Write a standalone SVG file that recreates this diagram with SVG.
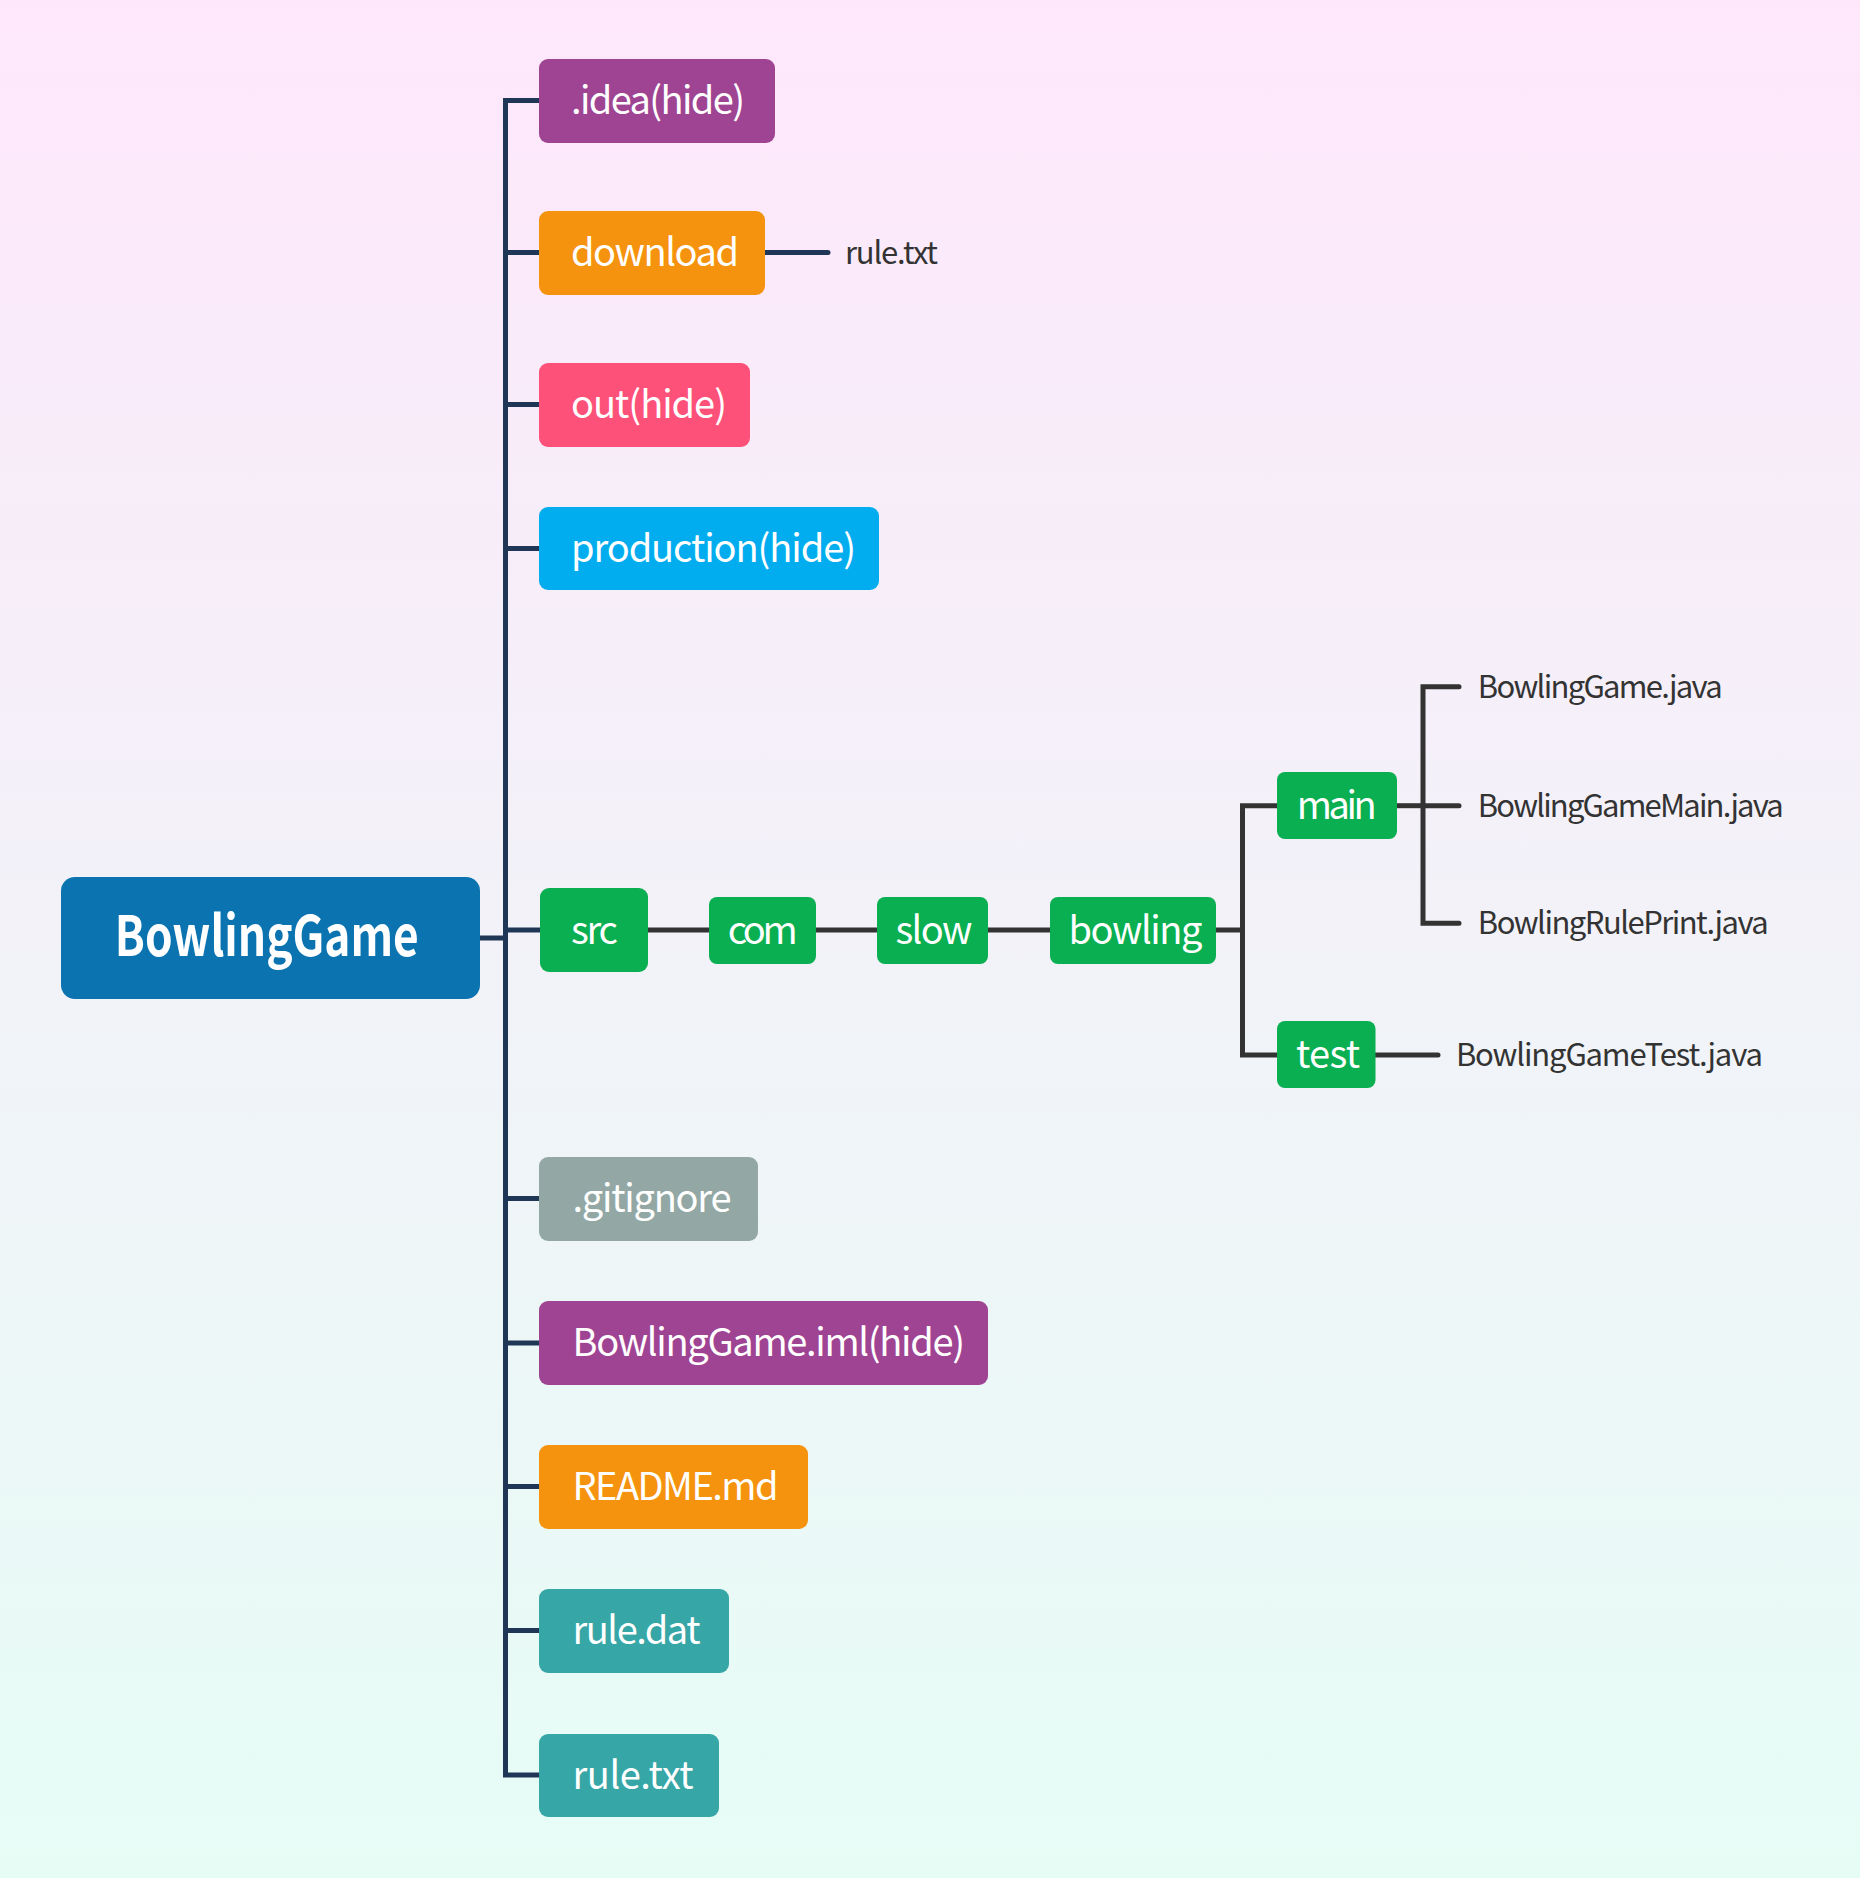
<svg xmlns="http://www.w3.org/2000/svg" width="1860" height="1878" viewBox="0 0 1860 1878">
<defs>
<linearGradient id="bg" x1="0" y1="0" x2="0" y2="1">
<stop offset="0" stop-color="#fee7fb"/>
<stop offset="0.5" stop-color="#f2f2f8"/>
<stop offset="1" stop-color="#e6fdf6"/>
</linearGradient>
<style>
.lbl{font-family:"Noto Sans CJK SC","Noto Sans",sans-serif;font-size:38px;fill:#ffffff}
.root{font-family:"Noto Sans CJK SC","Noto Sans",sans-serif;font-size:56px;font-weight:700;fill:#ffffff}
.sm{font-family:"Noto Sans CJK SC","Noto Sans",sans-serif;font-size:31px;fill:#333333}
.navy{fill:none;stroke:#1f3656;stroke-width:5}
.gray{fill:none;stroke:#333333;stroke-width:5}
.purple{fill:#9f4493}.orange{fill:#f5930f}.red{fill:#fe517a}.blue{fill:#02adef}
.green{fill:#09af50}.grey{fill:#93a8a5}.teal{fill:#37a6a7}.rootc{fill:#0b73b0}
</style>
</defs>
<rect x="0" y="0" width="1860" height="1878" fill="url(#bg)"/>

<g id="connectors">
<path class="navy" d="M539 100.5 H505.5 V1775 H539"/>
<path class="navy" d="M480 938 H505.5"/>
<path class="navy" d="M505.5 252.6 H539 M505.5 404.5 H539 M505.5 548.5 H539 M505.5 930 H540 M505.5 1198.5 H539 M505.5 1343 H539 M505.5 1486.5 H539 M505.5 1630.5 H539"/>
<path class="navy" d="M765 252.6 H828" stroke-linecap="round"/>
<path class="gray" d="M648 930 H709 M816 930 H877 M988 930 H1050 M1216 930 H1242.5"/>
<path class="gray" d="M1277 805.7 H1242.5 V1055 H1277"/>
<path class="gray" d="M1397 805.7 H1423"/>
<path class="gray" d="M1459 686.7 H1423 V923.3 H1459" stroke-linecap="round"/>
<path class="gray" d="M1423 805.7 H1459" stroke-linecap="round"/>
<path class="gray" d="M1375 1055 H1438" stroke-linecap="round"/>
</g>

<g id="node-root"><rect class="rootc" x="61" y="877" width="419" height="122" rx="14"/><text class="root" x="114.8" y="956" textLength="304" lengthAdjust="spacingAndGlyphs">BowlingGame</text></g>

<g id="node-idea"><rect class="purple" x="539" y="59" width="236" height="84" rx="9"/><text class="lbl" x="571" y="114" textLength="174">.idea(hide)</text></g>
<g id="node-download"><rect class="orange" x="539" y="211" width="226" height="84" rx="9"/><text class="lbl" x="571" y="265.5" textLength="168">download</text></g>
<g id="node-download-ruletxt"><text class="sm" x="845" y="263.5" textLength="93">rule.txt</text></g>
<g id="node-out"><rect class="red" x="539" y="363" width="211" height="84" rx="9"/><text class="lbl" x="571" y="418" textLength="156">out(hide)</text></g>
<g id="node-production"><rect class="blue" x="539" y="507" width="340" height="83" rx="9"/><text class="lbl" x="571" y="561.5" textLength="285">production(hide)</text></g>

<g id="node-src"><rect class="green" x="540" y="888" width="108" height="84" rx="9"/><text class="lbl" x="571" y="943.5" textLength="47">src</text></g>
<g id="node-com"><rect class="green" x="709" y="897" width="107" height="67" rx="8"/><text class="lbl" x="727.7" y="943.5" textLength="70">com</text></g>
<g id="node-slow"><rect class="green" x="877" y="897" width="111" height="67" rx="8"/><text class="lbl" x="895.4" y="943.5" textLength="77">slow</text></g>
<g id="node-bowling"><rect class="green" x="1050" y="897" width="166" height="67" rx="8"/><text class="lbl" x="1068.5" y="943.5" textLength="134">bowling</text></g>
<g id="node-main"><rect class="green" x="1277" y="772" width="120" height="67" rx="8"/><text class="lbl" x="1296.8" y="818.5" textLength="80">main</text></g>
<g id="node-test"><rect class="green" x="1277" y="1021" width="98.5" height="67" rx="8"/><text class="lbl" x="1296" y="1067.5" textLength="64">test</text></g>

<g id="node-bgjava"><text class="sm" x="1477.8" y="698" textLength="245">BowlingGame.java</text></g>
<g id="node-bgmainjava"><text class="sm" x="1477.8" y="816.7" textLength="306">BowlingGameMain.java</text></g>
<g id="node-brpjava"><text class="sm" x="1477.8" y="934" textLength="291">BowlingRulePrint.java</text></g>
<g id="node-bgtestjava"><text class="sm" x="1455.9" y="1065.5" textLength="307">BowlingGameTest.java</text></g>

<g id="node-gitignore"><rect class="grey" x="539" y="1157" width="219" height="84" rx="9"/><text class="lbl" x="572.5" y="1212" textLength="159">.gitignore</text></g>
<g id="node-iml"><rect class="purple" x="539" y="1301" width="449" height="84" rx="9"/><text class="lbl" x="572.5" y="1356" textLength="392.5">BowlingGame.iml(hide)</text></g>
<g id="node-readme"><rect class="orange" x="539" y="1445" width="269" height="84" rx="9"/><text class="lbl" x="572.5" y="1500" textLength="206">README.md</text></g>
<g id="node-ruledat"><rect class="teal" x="539" y="1589" width="190" height="84" rx="9"/><text class="lbl" x="572.5" y="1644" textLength="128">rule.dat</text></g>
<g id="node-ruletxt"><rect class="teal" x="539" y="1734" width="180" height="83" rx="9"/><text class="lbl" x="572.5" y="1788.5" textLength="121">rule.txt</text></g>
</svg>
